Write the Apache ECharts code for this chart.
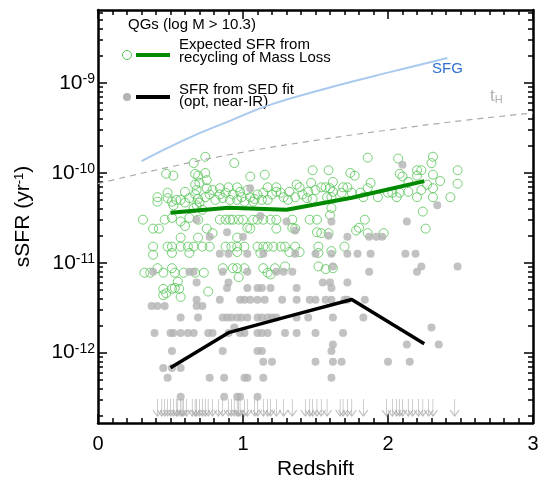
<!DOCTYPE html>
<html>
<head>
<meta charset="utf-8">
<script src="https://cdn.jsdelivr.net/npm/echarts@6/dist/echarts.min.js"></script>
<style>
html, body { margin: 0; padding: 0; background: #fff; }
#chart { width: 541px; height: 478px; }
</style>
</head>
<body>
<div id="chart"></div>
<script>
var FONT = '"Liberation Sans", Arial, Helvetica, sans-serif';

// --- data: [redshift, log10 sSFR] ---
var greenPts = [
  [0.74,-9.82],[0.66,-9.89],[0.94,-9.89],[0.47,-10.01],[0.52,-10.03],[0.67,-10.01],[0.74,-10.0],[0.69,-10.03],
  [0.75,-10.08],[1.05,-10.04],[1.15,-10.02],[1.86,-9.83],[2.07,-9.84],[2.31,-9.82],[2.30,-9.89],[1.48,-9.97],
  [1.59,-9.97],[1.74,-10.0],[1.77,-10.03],[2.08,-10.01],[2.10,-10.04],[2.20,-9.97],[2.23,-9.97],[2.20,-10.03],
  [2.31,-10.02],[2.48,-9.97],[2.36,-10.09],[2.48,-10.12],[2.43,-10.27],[1.47,-10.11],[1.62,-10.10],[1.88,-10.11],
  [2.14,-10.10],[2.27,-10.13],
  [0.41,-10.27],[0.41,-10.32],[0.48,-10.22],[0.48,-10.28],[0.51,-10.32],[0.54,-10.30],[0.52,-10.36],[0.57,-10.30],
  [0.60,-10.33],[0.67,-10.13],[0.68,-10.19],[0.75,-10.17],[0.67,-10.24],[0.69,-10.29],[0.70,-10.33],[0.74,-10.27],
  [0.66,-10.39],[0.72,-10.41],[0.77,-10.24],[0.81,-10.30],[0.84,-10.17],[0.84,-10.24],[0.86,-10.28],[0.90,-10.16],
  [0.91,-10.30],[0.93,-10.24],[0.96,-10.16],[0.96,-10.30],[0.99,-10.27],[1.01,-10.32],[1.05,-10.27],[1.07,-10.32],
  [1.10,-10.24],[1.14,-10.22],[1.17,-10.16],[1.17,-10.30],[1.20,-10.24],[1.23,-10.16],[1.23,-10.21],[1.28,-10.27],
  [1.36,-10.27],[1.37,-10.13],[1.31,-10.30],[1.39,-10.16],[1.44,-10.28],[1.45,-10.21],[1.48,-10.29],[1.50,-10.19],
  [1.54,-10.16],[1.57,-10.16],[1.60,-10.17],[1.62,-10.21],[1.58,-10.27],[1.61,-10.27],[1.69,-10.16],[1.72,-10.16],
  [1.68,-10.22],[1.75,-10.22],[1.81,-10.22],[1.83,-10.27],[1.86,-10.17],[1.93,-10.27],[2.00,-10.22],[2.03,-10.22],
  [2.08,-10.22],[2.06,-10.27],[2.14,-10.21],[2.20,-10.27],[2.23,-10.19],[2.31,-10.17],[2.31,-10.27],
  [0.60,-10.21],[0.63,-10.28],[0.79,-10.19],[0.88,-10.22],[0.98,-10.21],[1.03,-10.19],[1.08,-10.29],[1.13,-10.30],
  [1.26,-10.22],[1.32,-10.21],[1.41,-10.24],[0.70,-10.11],[0.68,-10.36],
  [1.61,-10.39],[1.60,-10.47],[2.24,-10.43],[0.31,-10.52],[0.38,-10.62],[0.42,-10.62],[0.46,-10.52],[0.51,-10.50],
  [0.57,-10.54],[0.60,-10.59],[0.63,-10.50],[0.69,-10.52],[0.75,-10.62],[0.79,-10.67],[0.84,-10.52],[0.88,-10.52],
  [0.91,-10.52],[0.93,-10.52],[0.97,-10.52],[1.00,-10.52],[1.03,-10.61],[1.05,-10.62],[1.07,-10.52],[1.10,-10.52],
  [1.14,-10.52],[1.19,-10.52],[1.23,-10.52],[1.23,-10.62],[1.34,-10.52],[1.36,-10.62],[1.46,-10.52],[1.51,-10.52],
  [1.84,-10.52],[0.57,-10.72],[0.69,-10.72],[0.96,-10.72],[1.51,-10.66],[1.54,-10.67],[1.59,-10.67],[1.78,-10.64],
  [1.80,-10.61],[1.86,-10.67],[1.97,-10.67],[2.26,-10.62],[1.34,-10.61],
  [0.38,-10.82],[0.48,-10.82],[0.51,-10.82],[0.57,-10.82],[0.62,-10.82],[0.66,-10.82],[0.72,-10.82],[0.77,-10.82],
  [0.88,-10.82],[0.92,-10.82],[0.96,-10.82],[1.01,-10.82],[1.10,-10.82],[1.14,-10.82],[1.17,-10.82],[1.21,-10.82],
  [1.26,-10.82],[1.29,-10.82],[1.36,-10.82],[1.52,-10.82],[1.70,-10.82],[0.38,-10.91],[0.51,-10.89],[0.63,-10.89],
  [0.96,-10.88],[1.12,-10.89],[1.32,-10.88],[1.39,-10.88],[1.52,-10.89],[1.61,-10.87],
  [0.32,-11.11],[0.36,-11.11],[0.41,-11.06],[0.45,-11.11],[0.51,-11.06],[0.53,-11.11],[0.59,-11.11],[0.67,-11.11],
  [0.73,-11.11],[0.86,-11.06],[0.93,-11.06],[0.96,-11.06],[1.01,-11.06],[0.97,-11.16],[1.14,-11.06],[1.17,-11.11],
  [1.22,-11.06],[1.29,-11.04],[1.57,-11.07],[1.62,-11.06],[1.52,-11.04],[1.19,-11.13],
  [0.45,-11.29],[0.47,-11.34],[0.51,-11.29],[0.53,-11.28],[0.56,-11.29],[0.55,-11.21],[0.57,-11.38],[0.45,-11.36],
  [0.76,-11.32]
];

var grayUpper = [
  [1.05,-10.17],[2.10,-9.91],[2.34,-10.36],[0.68,-10.52],[1.12,-10.48],[1.30,-10.54],[1.61,-10.54],[2.13,-10.54],
  [0.89,-10.66],[1.36,-10.64],[0.77,-10.71],[1.00,-10.71],[1.59,-10.70],[1.72,-10.71],[1.87,-10.71],[1.92,-10.71],
  [1.96,-10.71],[1.62,-11.04],[2.23,-11.04],[2.48,-11.04]
];

// SED-fit values fall on discrete levels: [log10 sSFR, redshifts]
var grayRows = [
  [-10.90, [0.84,0.90,1.03,1.14,1.36,1.50,1.61,1.72,1.79,1.88,2.12,2.19]],
  [-11.10, [0.38,0.63,0.66,0.86,1.03,1.23,1.28,1.34,1.87,2.20]],
  [-11.22, [0.68,0.90,1.55,1.60,1.72]],
  [-11.28, [0.89,1.03,1.10,1.13,1.19,1.37,1.61]],
  [-11.41, [0.68,0.84,0.98,1.01,1.05,1.10,1.15,1.27,1.37,1.46,1.50,1.57,1.61,1.70,1.72,1.84]],
  [-11.48, [0.37,0.41,0.46,0.68,0.72]],
  [-11.61, [0.57,0.69,0.86,0.89,0.92,0.96,0.99,1.03,1.10,1.13,1.17,1.20,1.23,1.37,1.45,1.62,1.83]],
  [-11.72, [0.94,2.30]],
  [-11.78, [0.39,0.50,0.52,0.57,0.62,0.66,0.76,0.79,0.90,0.98,1.01,1.10,1.13,1.17,1.29,1.37,1.50,1.69]],
  [-11.91, [1.62,2.13,2.35]],
  [-11.98, [0.51,0.86,1.10,1.13,1.61]],
  [-12.10, [1.14,1.20,1.50,1.62,1.68,2.00,2.15]],
  [-12.17, [0.45,0.51,0.57]],
  [-12.28, [0.48,0.77,0.87,1.01,1.03,1.14,1.61]],
  [-12.49, [0.57,0.87,0.96,0.98,1.10]]
];

// upper limits (arrows)
var limitZ = [0.41,0.44,0.46,0.48,0.50,0.52,0.54,0.55,0.57,0.58,0.59,0.61,0.65,0.67,0.68,0.70,0.72,0.74,0.76,0.79,
  0.83,0.86,0.90,0.92,0.94,0.96,0.97,0.98,1.01,1.03,1.08,1.10,1.14,1.17,1.19,1.23,1.28,1.34,1.43,1.46,1.48,1.51,
  1.54,1.58,1.67,1.69,1.72,1.75,1.83,1.99,2.03,2.06,2.08,2.10,2.14,2.17,2.21,2.24,2.28,2.31,2.46];
var limitVal = 2.45e-13;

// medians
var medZ = [0.5, 0.9, 1.3, 1.75, 2.25];
var medRecycle = [3.6e-11, 4.1e-11, 3.9e-11, 5.3e-11, 8.1e-11];
var medSed = [6.8e-13, 1.67e-12, 2.5e-12, 3.9e-12, 1.26e-12];

// star-forming sequence and 1/t_H
var sfgZ = [0.30, 0.60, 0.91, 1.19, 1.53, 1.88, 2.15, 2.41];
var sfgVal = [1.35e-10, 2.35e-10, 3.8e-10, 5.75e-10, 8.3e-10, 1.17e-9, 1.5e-9, 1.9e-9];
var thZ = [0, 0.5, 1, 1.5, 2, 2.5, 3];
var thVal = [7.6e-11, 1.17e-10, 1.7e-10, 2.3e-10, 3.0e-10, 3.8e-10, 4.65e-10];

var yMin = 1.65e-13, yMax = 6.5e-9;
var majorTicks = [1e-12, 1e-11, 1e-10, 1e-9];
var minorTicks = [];
for (var e = -13; e <= -9; e++) {
  for (var m = 2; m <= 9; m++) {
    var v = m * Math.pow(10, e);
    if (v > yMin && v < yMax) minorTicks.push(v);
  }
}

function toPair(p) { return [p[0], Math.pow(10, p[1])]; }
var grayData = grayUpper.map(toPair);
grayRows.forEach(function(r) {
  r[1].forEach(function(z) { grayData.push([z, Math.pow(10, r[0])]); });
});

var green = '#55c455';
var gray = '#b3b3b3';

function yAxisDef(pos, ticks, len, labels) {
  return {
    type: 'log', position: pos, min: yMin, max: yMax, gridIndex: 0,
    axisLine: { show: labels !== null, lineStyle: { color: '#000', width: 2.5 } },
    axisTick: { show: true, inside: true, length: len, customValues: ticks, lineStyle: { color: '#000', width: 1.5 } },
    axisLabel: labels ? labels : { show: false },
    splitLine: { show: false },
    minorTick: { show: false }
  };
}

var chart = echarts.init(document.getElementById('chart'), null, { renderer: 'canvas' });
var yLeft = yAxisDef('left', majorTicks, 9, {
  show: true, margin: 3, customValues: majorTicks,
  formatter: function(v) { return '{b|10}{s|' + Math.round(Math.log10(v)) + '}'; },
  rich: {
    b: { fontFamily: FONT, fontSize: 21, color: '#000' },
    s: { fontFamily: FONT, fontSize: 14, color: '#000', verticalAlign: 'top' }
  }
});
yLeft.name = 'sSFR (yr{s|-1})';
yLeft.nameLocation = 'middle';
yLeft.nameGap = 64;
yLeft.nameTextStyle = {
  fontFamily: FONT, fontSize: 21, color: '#000',
  rich: { s: { fontFamily: FONT, fontSize: 13, color: '#000', verticalAlign: 'top' } }
};

chart.setOption({
  animation: false,
  backgroundColor: '#fff',
  grid: { left: 98, right: 8, top: 10, bottom: 55, outerBoundsMode: 'none', containLabel: false },
  xAxis: [{
    type: 'value', position: 'bottom', min: 0, max: 3, interval: 1,
    name: 'Redshift', nameLocation: 'middle', nameGap: 35,
    nameTextStyle: { fontFamily: FONT, fontSize: 21, color: '#000' },
    axisLine: { lineStyle: { color: '#000', width: 2.5 } },
    axisTick: { inside: true, length: 9, lineStyle: { color: '#000', width: 1.5 } },
    minorTick: { show: true, splitNumber: 10, length: 5, lineStyle: { color: '#000', width: 1.5 } },
    axisLabel: { fontFamily: FONT, fontSize: 20, color: '#000', margin: 11 },
    splitLine: { show: false }
  }, {
    type: 'value', position: 'top', min: 0, max: 3, interval: 1,
    axisLine: { lineStyle: { color: '#000', width: 2.5 } },
    axisTick: { inside: true, length: 9, lineStyle: { color: '#000', width: 1.5 } },
    minorTick: { show: true, splitNumber: 10, length: 5, lineStyle: { color: '#000', width: 1.5 } },
    axisLabel: { show: false },
    splitLine: { show: false }
  }],
  yAxis: [
    yLeft,
    yAxisDef('left', minorTicks, 5, null),
    yAxisDef('right', majorTicks, 9, false),
    yAxisDef('right', minorTicks, 5, null)
  ],
  series: [
    {
      type: 'scatter', name: 'recycling', silent: true, z: 2,
      data: greenPts.map(toPair), symbol: 'circle', symbolSize: 9,
      itemStyle: { color: 'none', borderColor: green, borderWidth: 1 }
    },
    {
      type: 'scatter', name: 'sed', silent: true, z: 3,
      data: grayData, symbol: 'circle', symbolSize: 8,
      itemStyle: { color: gray }
    },
    {
      type: 'scatter', name: 'limits', silent: true, z: 3,
      data: limitZ.map(function(z) { return [z, limitVal]; }),
      symbol: 'path://M5,0 L5,20 M0.5,13 L5,20 L9.5,13', symbolSize: [9, 17],
      itemStyle: { color: 'none', borderColor: '#aaaaaa', borderWidth: 1 }
    },
    {
      type: 'line', name: 'tH', silent: true, z: 4, smooth: true, showSymbol: false,
      data: thZ.map(function(z, i) { return [z, thVal[i]]; }),
      lineStyle: { color: '#aaaaaa', width: 1.2, type: [6, 5] }
    },
    {
      type: 'line', name: 'SFG', silent: true, z: 4, smooth: true, showSymbol: false,
      data: sfgZ.map(function(z, i) { return [z, sfgVal[i]]; }),
      lineStyle: { color: '#a9c9ee', width: 2 }
    },
    {
      type: 'line', name: 'medRecycle', silent: true, z: 5, showSymbol: false,
      data: medZ.map(function(z, i) { return [z, medRecycle[i]]; }),
      lineStyle: { color: '#008a00', width: 4 }
    },
    {
      type: 'line', name: 'medSed', silent: true, z: 5, showSymbol: false,
      data: medZ.map(function(z, i) { return [z, medSed[i]]; }),
      lineStyle: { color: '#000', width: 3.5 }
    }
  ],
  graphic: [
    { type: 'text', left: 128, top: 17, style: { text: 'QGs (log M > 10.3)', font: '15px ' + FONT, fill: '#000' } },
    { type: 'circle', shape: { cx: 127, cy: 55, r: 4.5 }, style: { fill: 'none', stroke: green, lineWidth: 1 } },
    { type: 'line', shape: { x1: 136, y1: 55, x2: 170, y2: 55 }, style: { stroke: '#008a00', lineWidth: 4 } },
    { type: 'text', left: 179, top: 37, style: { text: 'Expected SFR from\nrecycling of Mass Loss', font: '15px ' + FONT, lineHeight: 13, fill: '#000' } },
    { type: 'circle', shape: { cx: 127, cy: 97, r: 4 }, style: { fill: gray } },
    { type: 'line', shape: { x1: 136, y1: 97, x2: 170, y2: 97 }, style: { stroke: '#000', lineWidth: 4 } },
    { type: 'text', left: 179, top: 82, style: { text: 'SFR from SED fit\n(opt, near-IR)', font: '15px ' + FONT, lineHeight: 12.5, fill: '#000' } },
    { type: 'text', left: 432, top: 61, style: { text: 'SFG', font: '15px ' + FONT, fill: '#2f6fcf' } },
    { type: 'text', left: 490, top: 88, style: {
      text: '{t|t}{h|H}',
      rich: { t: { font: '17px ' + FONT, fill: '#b0b0b0' }, h: { font: '11px ' + FONT, fill: '#b0b0b0', verticalAlign: 'bottom' } }
    } }
  ]
});
window.addEventListener('resize', function() { chart.resize(); });
</script>
</body>
</html>
